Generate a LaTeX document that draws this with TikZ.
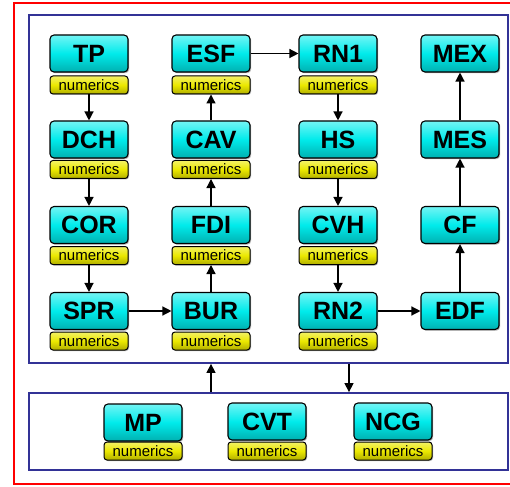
\documentclass[tikz,border=0pt]{standalone}
\usepackage{fontspec}
\setmainfont{Liberation Sans}
\usetikzlibrary{shadows,arrows.meta}
\definecolor{boxcyan}{RGB}{0,235,235}
\definecolor{numyellow}{RGB}{235,232,0}
\definecolor{panelblue}{RGB}{50,50,150}
\tikzset{
  module/.style={draw=black, line width=1.1pt, rounded corners=4pt,
    minimum width=78pt, minimum height=37pt, inner sep=0pt,
    top color=boxcyan!55!white, bottom color=boxcyan!75!black, middle color=boxcyan,
    drop shadow={shadow xshift=1.2pt, shadow yshift=-1.2pt, fill=black!60},
    font=\fontsize{25}{25}\selectfont\bfseries},
  numtag/.style={draw=black, line width=1pt, rounded corners=3pt,
    minimum width=78pt, minimum height=18pt, inner sep=0pt,
    top color=numyellow!60!white, bottom color=numyellow!75!black, middle color=numyellow,
    drop shadow={shadow xshift=1pt, shadow yshift=-1pt, fill=black!60},
    font=\fontsize{15}{15}\selectfont},
  panel/.style={draw=panelblue, line width=1.8pt, inner sep=0pt},
  arr/.style={-{Triangle[length=9pt,width=9pt]}, line width=1.3pt, black}
}
\begin{document}
\begin{tikzpicture}[x=1pt,y=-1pt]
\useasboundingbox (0,0) rectangle (510,486);
% outer frame, its right side runs past the page edge
\draw[red, line width=2pt] (14,3) rectangle (516,484);
% the two panels
\node[panel, minimum width=479pt, minimum height=348pt] (upper) at (268.5,189) {};
\node[panel, minimum width=479pt, minimum height=77pt] (lower) at (268.5,431.5) {};

% column 1
\node[module] (TP)  at (89,53.5) {TP};   \node[numtag] (TPn)  at (89,85)    {numerics};
\node[module] (DCH) at (89,139.5) {DCH}; \node[numtag] (DCHn) at (89,169.5) {numerics};
\node[module] (COR) at (89,225) {COR};   \node[numtag] (CORn) at (89,255.5) {numerics};
\node[module] (SPR) at (89,311) {SPR};   \node[numtag] (SPRn) at (89,341)   {numerics};
% column 2
\node[module] (ESF) at (211,53.5) {ESF};  \node[numtag] (ESFn) at (211,85)    {numerics};
\node[module] (CAV) at (211,139.5) {CAV}; \node[numtag] (CAVn) at (211,169.5) {numerics};
\node[module] (FDI) at (211,225) {FDI};   \node[numtag] (FDIn) at (211,255.5) {numerics};
\node[module] (BUR) at (211,311) {BUR};   \node[numtag] (BURn) at (211,341)   {numerics};
% column 3
\node[module] (RN1) at (338,53.5) {RN1};  \node[numtag] (RN1n) at (338,85)    {numerics};
\node[module] (HS)  at (338,139.5) {HS};  \node[numtag] (HSn)  at (338,169.5) {numerics};
\node[module] (CVH) at (338,225) {CVH};   \node[numtag] (CVHn) at (338,255.5) {numerics};
\node[module] (RN2) at (338,311) {RN2};   \node[numtag] (RN2n) at (338,341)   {numerics};
% column 4
\node[module] (MEX) at (460,53.5) {MEX};
\node[module] (MES) at (460,139.5) {MES};
\node[module] (CF)  at (460,225) {CF};
\node[module] (EDF) at (460,311) {EDF};
% lower panel
\node[module] (MP)  at (143,422.5) {MP};  \node[numtag] (MPn)  at (143,451) {numerics};
\node[module] (CVT) at (267,421.5) {CVT}; \node[numtag] (CVTn) at (267,451) {numerics};
\node[module] (NCG) at (393,421.5) {NCG}; \node[numtag] (NCGn) at (393,451) {numerics};

% flow
\draw[arr] (TPn) -- (DCH);
\draw[arr] (DCHn) -- (COR);
\draw[arr] (CORn) -- (SPR);
\draw[arr] (SPR) -- (BUR);
\draw[arr] (BUR) -- (FDIn);
\draw[arr] (FDI) -- (CAVn);
\draw[arr] (CAV) -- (ESFn);
\draw[arr] (ESF) -- (RN1);
\draw[arr] (RN1n) -- (HS);
\draw[arr] (HSn) -- (CVH);
\draw[arr] (CVHn) -- (RN2);
\draw[arr] (RN2) -- (EDF);
\draw[arr] (EDF) -- (CF);
\draw[arr] (CF) -- (MES);
\draw[arr] (MES) -- (MEX);
% between the panels
\coordinate (down) at (349,0);
\draw[arr] (lower.north -| BUR) -- (upper.south -| BUR);
\draw[arr] (upper.south -| down) -- (lower.north -| down);
\end{tikzpicture}
\end{document}
